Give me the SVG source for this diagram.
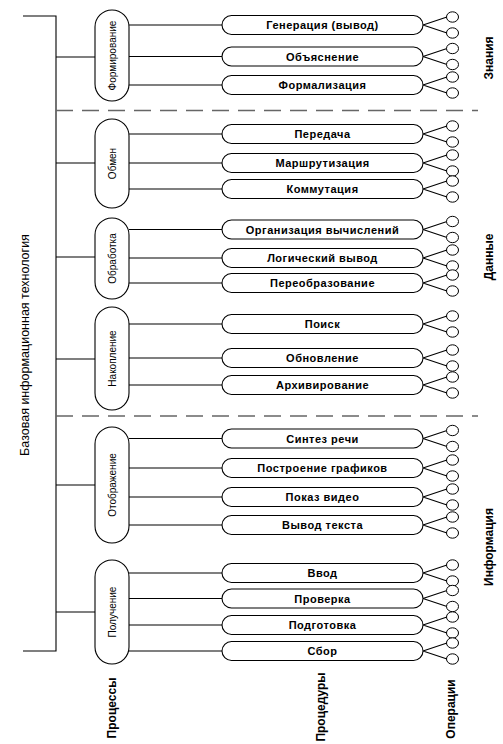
<svg xmlns="http://www.w3.org/2000/svg" width="503" height="744" viewBox="0 0 503 744">
<style>
.ln{stroke:#000;stroke-width:1.1;fill:none}
.dash{stroke:#666;stroke-width:1.5;stroke-dasharray:17 9;fill:none}
.pp{fill:#fff;stroke:#000;stroke-width:1.1}
.op{fill:#fff;stroke:#000;stroke-width:1}
.pt{font-family:"Liberation Sans",Arial,sans-serif;font-size:10px;text-anchor:middle;dominant-baseline:central}
.rt{font-family:"Liberation Sans",Arial,sans-serif;font-size:11px;letter-spacing:0.5px;font-weight:bold;text-anchor:middle;dominant-baseline:central}
.lbl{font-family:"Liberation Sans",Arial,sans-serif;font-size:12px;font-weight:bold;text-anchor:middle;dominant-baseline:central}
.main{font-family:"Liberation Sans",Arial,sans-serif;font-size:12.5px;text-anchor:middle;dominant-baseline:central}
</style>
<rect width="503" height="744" fill="#fff"/>
<g id="connectors">
<path class="ln" d="M23,16H56V651H23"/>
<path class="ln" d="M56,57H95M56,163H95M56,257H95M56,359H95M56,485H95M56,612H95"/>
<path class="ln" d="M129,25H222M129,56.5H222M129,85H222M129,134H222M129,163H222M129,189H222M129,229.5H222M129,258H222M129,283H222M129,324H222M129,358H222M129,385H222M129,438.5H222M129,468H222M129,497H222M129,525H222M129,573H222M129,598.5H222M129,625H222M129,651H222"/>
<path class="ln" d="M423,25L447,17M423,25L447,33M423,56.5L447,48.5M423,56.5L447,64.5M423,85L447,77M423,85L447,93M423,134L447,126M423,134L447,142M423,163L447,155M423,163L447,171M423,189L447,181M423,189L447,197M423,229.5L447,221.5M423,229.5L447,237.5M423,258L447,250M423,258L447,266M423,283L447,275M423,283L447,291M423,324L447,316M423,324L447,332M423,358L447,350M423,358L447,366M423,385L447,377M423,385L447,393M423,438.5L447,430.5M423,438.5L447,446.5M423,468L447,460M423,468L447,476M423,497L447,489M423,497L447,505M423,525L447,517M423,525L447,533M423,573L447,565M423,573L447,581M423,598.5L447,590.5M423,598.5L447,606.5M423,625L447,617M423,625L447,633M423,651L447,643M423,651L447,659"/>
<path class="dash" d="M56,110.5H478M56,416H478"/>
</g>
<g id="p-formirovanie"><rect class="pp" x="95" y="10" width="34" height="91" rx="17"/><text class="pt" transform="translate(112,55.5) rotate(-90)">Формирование</text></g>
<g id="p-obmen"><rect class="pp" x="95" y="119" width="34" height="89" rx="17"/><text class="pt" transform="translate(112,163.5) rotate(-90)">Обмен</text></g>
<g id="p-obrabotka"><rect class="pp" x="95" y="218" width="34" height="81" rx="17"/><text class="pt" transform="translate(112,258.5) rotate(-90)">Обработка</text></g>
<g id="p-nakoplenie"><rect class="pp" x="95" y="307" width="34" height="103" rx="17"/><text class="pt" transform="translate(112,358.5) rotate(-90)">Накопление</text></g>
<g id="p-otobrazhenie"><rect class="pp" x="95" y="427" width="34" height="116" rx="17"/><text class="pt" transform="translate(112,485) rotate(-90)">Отображение</text></g>
<g id="p-poluchenie"><rect class="pp" x="95" y="560" width="34" height="104" rx="17"/><text class="pt" transform="translate(112,612) rotate(-90)">Получение</text></g>
<g id="r1"><rect class="pp" x="222" y="15.5" width="201" height="19" rx="9.5"/><text class="rt" x="322.5" y="25">Генерация (вывод)</text></g>
<g id="r2"><rect class="pp" x="222" y="47" width="201" height="19" rx="9.5"/><text class="rt" x="322.5" y="56.5">Объяснение</text></g>
<g id="r3"><rect class="pp" x="222" y="75.5" width="201" height="19" rx="9.5"/><text class="rt" x="322.5" y="85">Формализация</text></g>
<g id="r4"><rect class="pp" x="222" y="124.5" width="201" height="19" rx="9.5"/><text class="rt" x="322.5" y="134">Передача</text></g>
<g id="r5"><rect class="pp" x="222" y="153.5" width="201" height="19" rx="9.5"/><text class="rt" x="322.5" y="163">Маршрутизация</text></g>
<g id="r6"><rect class="pp" x="222" y="179.5" width="201" height="19" rx="9.5"/><text class="rt" x="322.5" y="189">Коммутация</text></g>
<g id="r7"><rect class="pp" x="222" y="220" width="201" height="19" rx="9.5"/><text class="rt" x="322.5" y="229.5">Организация вычислений</text></g>
<g id="r8"><rect class="pp" x="222" y="248.5" width="201" height="19" rx="9.5"/><text class="rt" x="322.5" y="258">Логический вывод</text></g>
<g id="r9"><rect class="pp" x="222" y="273.5" width="201" height="19" rx="9.5"/><text class="rt" x="322.5" y="283">Переобразование</text></g>
<g id="r10"><rect class="pp" x="222" y="314.5" width="201" height="19" rx="9.5"/><text class="rt" x="322.5" y="324">Поиск</text></g>
<g id="r11"><rect class="pp" x="222" y="348.5" width="201" height="19" rx="9.5"/><text class="rt" x="322.5" y="358">Обновление</text></g>
<g id="r12"><rect class="pp" x="222" y="375.5" width="201" height="19" rx="9.5"/><text class="rt" x="322.5" y="385">Архивирование</text></g>
<g id="r13"><rect class="pp" x="222" y="429" width="201" height="19" rx="9.5"/><text class="rt" x="322.5" y="438.5">Синтез речи</text></g>
<g id="r14"><rect class="pp" x="222" y="458.5" width="201" height="19" rx="9.5"/><text class="rt" x="322.5" y="468">Построение графиков</text></g>
<g id="r15"><rect class="pp" x="222" y="487.5" width="201" height="19" rx="9.5"/><text class="rt" x="322.5" y="497">Показ видео</text></g>
<g id="r16"><rect class="pp" x="222" y="515.5" width="201" height="19" rx="9.5"/><text class="rt" x="322.5" y="525">Вывод текста</text></g>
<g id="r17"><rect class="pp" x="222" y="563.5" width="201" height="19" rx="9.5"/><text class="rt" x="322.5" y="573">Ввод</text></g>
<g id="r18"><rect class="pp" x="222" y="589" width="201" height="19" rx="9.5"/><text class="rt" x="322.5" y="598.5">Проверка</text></g>
<g id="r19"><rect class="pp" x="222" y="615.5" width="201" height="19" rx="9.5"/><text class="rt" x="322.5" y="625">Подготовка</text></g>
<g id="r20"><rect class="pp" x="222" y="641.5" width="201" height="19" rx="9.5"/><text class="rt" x="322.5" y="651">Сбор</text></g>
<g id="operations">
<ellipse class="op" cx="452.5" cy="17" rx="6" ry="5.2"/><ellipse class="op" cx="452.5" cy="33" rx="6" ry="5.2"/>
<ellipse class="op" cx="452.5" cy="48.5" rx="6" ry="5.2"/><ellipse class="op" cx="452.5" cy="64.5" rx="6" ry="5.2"/>
<ellipse class="op" cx="452.5" cy="77" rx="6" ry="5.2"/><ellipse class="op" cx="452.5" cy="93" rx="6" ry="5.2"/>
<ellipse class="op" cx="452.5" cy="126" rx="6" ry="5.2"/><ellipse class="op" cx="452.5" cy="142" rx="6" ry="5.2"/>
<ellipse class="op" cx="452.5" cy="155" rx="6" ry="5.2"/><ellipse class="op" cx="452.5" cy="171" rx="6" ry="5.2"/>
<ellipse class="op" cx="452.5" cy="181" rx="6" ry="5.2"/><ellipse class="op" cx="452.5" cy="197" rx="6" ry="5.2"/>
<ellipse class="op" cx="452.5" cy="221.5" rx="6" ry="5.2"/><ellipse class="op" cx="452.5" cy="237.5" rx="6" ry="5.2"/>
<ellipse class="op" cx="452.5" cy="250" rx="6" ry="5.2"/><ellipse class="op" cx="452.5" cy="266" rx="6" ry="5.2"/>
<ellipse class="op" cx="452.5" cy="275" rx="6" ry="5.2"/><ellipse class="op" cx="452.5" cy="291" rx="6" ry="5.2"/>
<ellipse class="op" cx="452.5" cy="316" rx="6" ry="5.2"/><ellipse class="op" cx="452.5" cy="332" rx="6" ry="5.2"/>
<ellipse class="op" cx="452.5" cy="350" rx="6" ry="5.2"/><ellipse class="op" cx="452.5" cy="366" rx="6" ry="5.2"/>
<ellipse class="op" cx="452.5" cy="377" rx="6" ry="5.2"/><ellipse class="op" cx="452.5" cy="393" rx="6" ry="5.2"/>
<ellipse class="op" cx="452.5" cy="430.5" rx="6" ry="5.2"/><ellipse class="op" cx="452.5" cy="446.5" rx="6" ry="5.2"/>
<ellipse class="op" cx="452.5" cy="460" rx="6" ry="5.2"/><ellipse class="op" cx="452.5" cy="476" rx="6" ry="5.2"/>
<ellipse class="op" cx="452.5" cy="489" rx="6" ry="5.2"/><ellipse class="op" cx="452.5" cy="505" rx="6" ry="5.2"/>
<ellipse class="op" cx="452.5" cy="517" rx="6" ry="5.2"/><ellipse class="op" cx="452.5" cy="533" rx="6" ry="5.2"/>
<ellipse class="op" cx="452.5" cy="565" rx="6" ry="5.2"/><ellipse class="op" cx="452.5" cy="581" rx="6" ry="5.2"/>
<ellipse class="op" cx="452.5" cy="590.5" rx="6" ry="5.2"/><ellipse class="op" cx="452.5" cy="606.5" rx="6" ry="5.2"/>
<ellipse class="op" cx="452.5" cy="617" rx="6" ry="5.2"/><ellipse class="op" cx="452.5" cy="633" rx="6" ry="5.2"/>
<ellipse class="op" cx="452.5" cy="643" rx="6" ry="5.2"/><ellipse class="op" cx="452.5" cy="659" rx="6" ry="5.2"/>
</g>
<g id="labels">
<text class="main" transform="translate(25,345) rotate(-90)">Базовая информационная технология</text>
<text class="lbl" transform="translate(489,58) rotate(-90)">Знания</text>
<text class="lbl" transform="translate(489,257) rotate(-90)">Данные</text>
<text class="lbl" transform="translate(489,547) rotate(-90)">Информация</text>
<text class="lbl" transform="translate(112,708) rotate(-90)">Процессы</text>
<text class="lbl" transform="translate(321,707) rotate(-90)">Процедуры</text>
<text class="lbl" transform="translate(451,709) rotate(-90)">Операции</text>
</g>
</svg>
